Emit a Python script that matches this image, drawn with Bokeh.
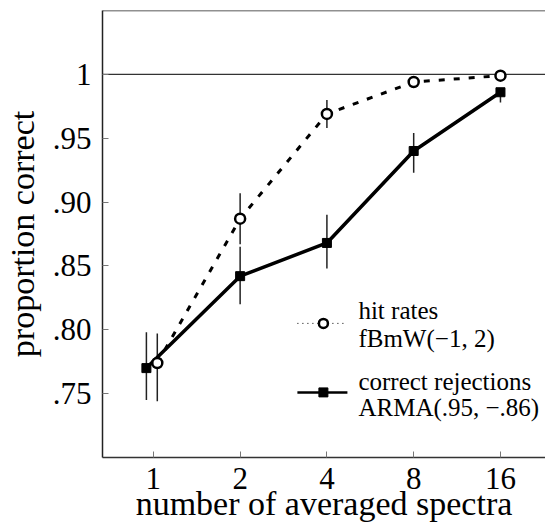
from bokeh.plotting import figure
from bokeh.models import (ColumnDataSource, FixedTicker, Range1d, Span, Label)
from bokeh.embed import file_html
from bokeh.resources import INLINE

# ---- data ----
n_spectra = [1, 2, 4, 8, 16]
x_tick_labels = ["1", "2", "4", "8", "16"]
y_ticks = [0.75, 0.80, 0.85, 0.90, 0.95, 1.0]
y_tick_labels = [".75", ".80", ".85", ".90", ".95", "1"]

# small horizontal jitter (multiplicative) used in the original at n=1
hit_jitter = [1.032, 1.0, 1.0, 1.0, 1.0]
cr_jitter = [0.946, 1.0, 1.0, 1.0, 1.0]

hit_rate = [0.774, 0.887, 0.969, 0.994, 0.999]
hit_lo = [0.744, 0.867, 0.958, 0.994, 0.999]
hit_hi = [0.797, 0.907, 0.980, 0.994, 0.999]

cr_rate = [0.770, 0.842, 0.868, 0.940, 0.986]
cr_lo = [0.745, 0.820, 0.848, 0.923, 0.978]
cr_hi = [0.798, 0.865, 0.890, 0.954, 0.989]

FONT = "Liberation Serif"

hx = [n * j for n, j in zip(n_spectra, hit_jitter)]
cx = [n * j for n, j in zip(n_spectra, cr_jitter)]
hits = ColumnDataSource(dict(x=hx, y=hit_rate, lo=hit_lo, hi=hit_hi))
crs = ColumnDataSource(dict(x=cx, y=cr_rate, lo=cr_lo, hi=cr_hi))

W, H = 545, 527
p = figure(width=W, height=H, output_backend="svg", toolbar_location=None,
           x_axis_type="log", x_range=Range1d(2 ** -0.586, 2 ** 4.519),
           y_range=Range1d(0.70, 1.05),
           min_border_left=102, min_border_right=0, min_border_top=10,
           min_border_bottom=70)
p.outline_line_color = None
p.grid.visible = False
p.background_fill_color = "white"
p.border_fill_color = "white"

# top border line and reference line at 1
p.add_layout(Span(location=1.05, dimension="width", line_color="#222222", line_width=1.5))
p.add_layout(Span(location=1.0, dimension="width", line_color="#333333", line_width=1.2,
                  level="underlay"))

# axes
xa = p.below[0]
xa.ticker = FixedTicker(ticks=n_spectra)
xa.major_label_overrides = {t: l for t, l in zip(n_spectra, x_tick_labels)}
xa.minor_tick_line_color = None
xa.major_tick_in = 6
xa.major_tick_out = 0
xa.major_tick_line_color = "#777777"
xa.axis_line_color = "#333333"
xa.axis_line_width = 1.5
xa.major_label_text_font = FONT
xa.major_label_text_font_size = "31px"
xa.major_label_text_color = "black"
xa.major_label_standoff = 10
xa.axis_label = "number of averaged spectra"
xa.axis_label_text_font = FONT
xa.axis_label_text_font_size = "34px"
xa.axis_label_text_font_style = "normal"
xa.axis_label_text_color = "black"
xa.axis_label_standoff = -7

ya = p.left[0]
ya.ticker = FixedTicker(ticks=y_ticks)
ya.major_label_overrides = {t: l for t, l in zip(y_ticks, y_tick_labels)}
ya.minor_tick_line_color = None
ya.major_tick_in = 6
ya.major_tick_out = 0
ya.major_tick_line_color = "#777777"
ya.axis_line_color = "#222222"
ya.axis_line_width = 1.5
ya.major_label_text_font = FONT
ya.major_label_text_font_size = "31px"
ya.major_label_text_color = "black"
ya.major_label_standoff = 11
ya.axis_label = "proportion correct"
ya.axis_label_text_font = FONT
ya.axis_label_text_font_size = "34px"
ya.axis_label_text_font_style = "normal"
ya.axis_label_text_color = "black"
ya.axis_label_standoff = 9

# error bars
p.segment(x0="x", y0="lo", x1="x", y1="hi", source=hits, line_color="#222222", line_width=1.5)
p.segment(x0="x", y0="lo", x1="x", y1="hi", source=crs, line_color="#222222", line_width=1.5)

# lines
p.line("x", "y", source=hits, line_color="black", line_width=3, line_dash="6 9")
p.line("x", "y", source=crs, line_color="black", line_width=3.5)

# markers
p.scatter("x", "y", source=crs, marker="square", size=9, fill_color="black", line_color="black")
p.scatter("x", "y", source=hits, marker="circle", size=10, fill_color="white",
          line_color="black", line_width=2.5)

# ---- legend (drawn manually; pixel positions converted to data coords) ----
def dx(px):
    return 2 ** ((px - 153) / 86.75)

def dy(py):
    return 1 - (py - 74) / 1277.0

p.line([dx(297), dx(343)], [dy(323), dy(323)], line_color="black", line_width=1, line_dash="1 4")
p.scatter([dx(323)], [dy(323)], marker="circle", size=9, fill_color="white",
          line_color="black", line_width=2.5)
p.line([dx(297), dx(347)], [dy(392), dy(392)], line_color="black", line_width=2.5)
p.scatter([dx(323)], [dy(392)], marker="square", size=9, fill_color="black", line_color="black")

# (text, vertical middle of the line in pixels)
legend_texts = [("hit rates", 310), ("fBmW(\u22121, 2)", 338),
                ("correct rejections", 381), ("ARMA(.95, \u2212.86)", 407)]
for t, my in legend_texts:
    p.add_layout(Label(x=dx(358), y=dy(my), text=t, text_font=FONT, text_font_size="25px",
                       text_color="black", text_baseline="middle", text_align="left"))

open("out.html", "w").write(file_html(p, INLINE))
